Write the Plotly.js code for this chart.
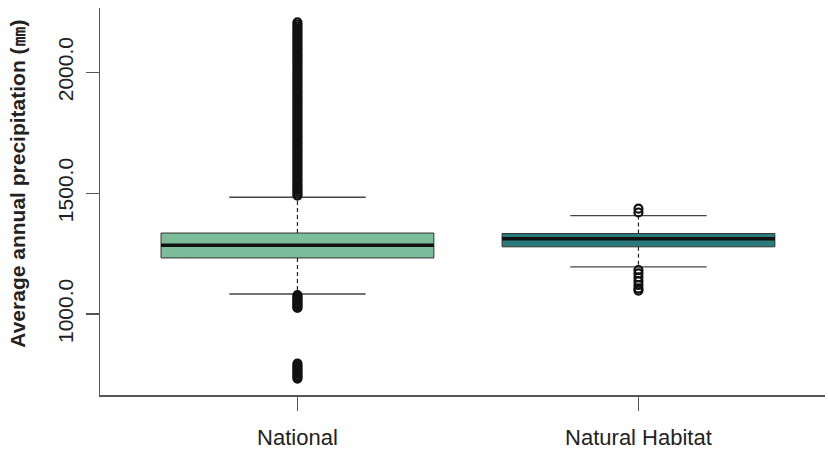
<!DOCTYPE html>
<html>
<head>
<meta charset="utf-8">
<script src="https://cdn.plot.ly/plotly-3.0.1.min.js"></script>
<style>html,body{margin:0;padding:0;background:#fff;}#chart{width:828px;height:451px;}</style>
</head>
<body>
<div id="chart"></div>
<script>
// ---- data ----
const categories = ['National', 'Natural Habitat'];
const catPos = [1, 2];
const q1 = [1232, 1278];
const median = [1284, 1311];
const q3 = [1335, 1333];
const lowerWhisker = [1083, 1195];
const upperWhisker = [1483, 1407];
const nationalOutliers = [
  1490,1498,1506,1514,1522,1530,1539,1548,1556,1565,1574,1582,1591,1600,1608,1617,1626,1634,1643,1652,
  1660,1669,1678,1686,1695,1704,1712,1721,1730,1738,1747,1756,1764,1773,1782,1790,1799,1808,1816,1825,
  1834,1842,1851,1860,1868,1877,1886,1894,1903,1912,1920,1929,1938,1946,1955,1964,1972,1981,1990,1998,
  2007,2016,2024,2033,2042,2050,2059,2068,2076,2085,2094,2102,2111,2120,2128,2137,2146,2154,2163,2172,
  2180,2189,2198,2207,
  1078,1072,1066,1060,1054,1048,1042,1036,1030,1025,
  795,788,781,774,767,760,753,746,739,733
];
const habitatOutliers = [1436, 1420, 1182, 1168, 1152, 1136, 1120, 1106, 1097];
const yTicks = [1000, 1500, 2000];
const yTickLabels = ['1000.0', '1500.0', '2000.0'];
const yTitle = 'Average annual precipitation (㎜)';

// ---- styles ----
const fills = ['#7dbd9b', '#2b7b7c'];
const boxWidth = 0.8;
const capHalf = 0.2;
const font = 'Liberation Sans, Arial, Helvetica, sans-serif';

const traces = [];
categories.forEach((c, i) => {
  const x0 = catPos[i];
  traces.push({
    type: 'box', name: c, x: [x0], q1: [q1[i]], median: [median[i]], q3: [q3[i]],
    lowerfence: [q1[i]], upperfence: [q3[i]], width: boxWidth, whiskerwidth: 0,
    fillcolor: fills[i], line: {color: '#333', width: 1}, boxpoints: false, hoverinfo: 'skip'
  });
  // whiskers (dashed)
  traces.push({
    type: 'scatter', mode: 'lines', x: [x0, x0, null, x0, x0],
    y: [q3[i], upperWhisker[i], null, q1[i], lowerWhisker[i]],
    line: {color: '#222', width: 1.2, dash: '4px,3px'}, hoverinfo: 'skip'
  });
  // caps
  traces.push({
    type: 'scatter', mode: 'lines',
    x: [x0 - capHalf, x0 + capHalf, null, x0 - capHalf, x0 + capHalf],
    y: [upperWhisker[i], upperWhisker[i], null, lowerWhisker[i], lowerWhisker[i]],
    line: {color: '#444', width: 1.4}, hoverinfo: 'skip'
  });
  // median (thick)
  traces.push({
    type: 'scatter', mode: 'lines',
    x: [x0 - boxWidth / 2, x0 + boxWidth / 2], y: [median[i], median[i]],
    line: {color: '#111', width: 3.5}, hoverinfo: 'skip'
  });
});
const outlierSets = [nationalOutliers, habitatOutliers];
outlierSets.forEach((vals, i) => {
  traces.push({
    type: 'scatter', mode: 'markers', x: vals.map(() => catPos[i]), y: vals,
    marker: {symbol: 'circle-open', size: 8, color: '#111', line: {width: 2.2}}, hoverinfo: 'skip'
  });
});

const layout = {
  width: 828, height: 451,
  margin: {l: 100, r: 3, t: 8, b: 56},
  paper_bgcolor: '#fff', plot_bgcolor: '#fff',
  showlegend: false, hovermode: false,
  font: {family: font, color: '#222'},
  xaxis: {
    range: [0.421, 2.547], tickvals: catPos, ticktext: categories,
    showline: true, linecolor: '#555', linewidth: 1.5, ticks: 'outside', ticklen: 14,
    tickcolor: '#555', tickwidth: 1.2, showgrid: false, zeroline: false, ticklabelstandoff: 8,
    tickfont: {size: 22, family: font, color: '#222'}
  },
  yaxis: {
    range: [665, 2266], tickvals: yTicks, ticktext: yTickLabels, tickangle: -90,
    showline: true, linecolor: '#555', linewidth: 1.5, ticks: 'outside', ticklen: 13,
    tickcolor: '#555', tickwidth: 1.2, showgrid: false, zeroline: false, ticklabelstandoff: 4,
    tickfont: {size: 21, family: font, color: '#222'}
  },
  annotations: [{
    text: '<b>' + yTitle + '</b>', textangle: -90, showarrow: false,
    xref: 'paper', yref: 'paper', x: 0, y: 0.546, xanchor: 'center', yanchor: 'middle',
    xshift: -82, font: {size: 21, family: font, color: '#222'}
  }]
};

Plotly.newPlot('chart', traces, layout, {staticPlot: true, displayModeBar: false});
</script>
</body>
</html>
